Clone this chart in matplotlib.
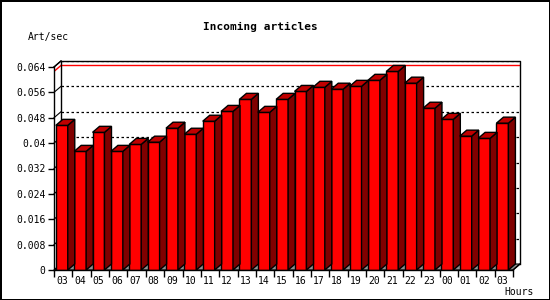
import numpy as np
import matplotlib
matplotlib.use("Agg")
import matplotlib.pyplot as plt
from matplotlib.patches import Polygon

# hourly article rate
hours = ["03", "04", "05", "06", "07", "08", "09", "10", "11", "12", "13", "14", "15",
         "16", "17", "18", "19", "20", "21", "22", "23", "00", "01", "02", "03"]
rates = [0.0456, 0.0374, 0.0434, 0.0374, 0.0396, 0.0403, 0.0447, 0.0428, 0.0469,
         0.0500, 0.0538, 0.0497, 0.0538, 0.0563, 0.0576, 0.0570, 0.0579, 0.0598,
         0.0626, 0.0589, 0.0510, 0.0475, 0.0422, 0.0415, 0.0463]
y_ticks = [0, 0.008, 0.016, 0.024, 0.032, 0.04, 0.048, 0.056, 0.064]
y_labels = ["0", "0.008", "0.016", "0.024", "0.032", "0.04", "0.048", "0.056", "0.064"]

plt.rcParams["font.family"] = "DejaVu Sans Mono"

TOP = 0.064
N = len(hours)
DX = 7 / 18.36          # depth of the 3d effect, in category units
DY = TOP * 6 / 203      # depth of the 3d effect, in value units
OFF = 0.1
W = 0.65

FRONT = "#ff0000"
SIDE = "#800000"
ROOF = "#c00000"

fig = plt.figure(figsize=(5.5, 3), dpi=100)
fig.patch.set_facecolor("white")
fig.patch.set_edgecolor("black")
fig.patch.set_linewidth(2)

ax = fig.add_axes([54 / 550, 30 / 300, 466 / 550, 209 / 300])
ax.set_xlim(0, N + DX)
ax.set_ylim(0, TOP + DY)
for s in ax.spines.values():
    s.set_visible(False)

# back wall: dotted grid, connectors and frame
for v in y_ticks[1:]:
    ax.plot([DX, N + DX], [v + DY, v + DY], color="black", lw=0.9,
            ls=(0, (2, 2)), zorder=1)
for v in y_ticks:
    ax.plot([0, DX], [v, v + DY], color="black", lw=0.8, zorder=1, clip_on=False)

mx = max(rates)
ax.plot([DX, N + DX], [mx + DY, mx + DY], color="red", lw=1, zorder=1.2)
ax.plot([0, DX], [mx, mx + DY], color="red", lw=1, zorder=1.2)

ax.plot([DX, DX, N + DX, N + DX], [DY, TOP + DY, TOP + DY, DY],
        color="black", lw=1, zorder=1.5, clip_on=False)

# floor
ax.add_patch(Polygon([(0, 0), (N, 0), (N + DX, DY), (DX, DY)], closed=True,
                     facecolor="#909090", edgecolor="black", lw=0.8, zorder=1.6))

# bars
x = np.arange(N)
ax.bar(x + OFF, rates, width=W, align="edge", color=FRONT, edgecolor="black",
       lw=1, zorder=3)
for xi, v in zip(x, rates):
    l = xi + OFF
    r = l + W
    ax.add_patch(Polygon([(r, 0), (r + DX, DY), (r + DX, v + DY), (r, v)], closed=True,
                         facecolor=SIDE, edgecolor="black", lw=1, zorder=3))
    ax.add_patch(Polygon([(l, v), (r, v), (r + DX, v + DY), (l + DX, v + DY)], closed=True,
                         facecolor=ROOF, edgecolor="black", lw=1, zorder=3))

# front axes
ax.plot([0, 0], [0, TOP], color="black", lw=1, zorder=5, clip_on=False)
ax.plot([0, DX], [TOP, TOP + DY], color="black", lw=1, zorder=5, clip_on=False)
ax.plot([0, N], [0, 0], color="black", lw=1, zorder=5, clip_on=False)
ax.plot([N, N + DX], [0, DY], color="black", lw=1, zorder=5, clip_on=False)

ax.set_yticks(y_ticks)
ax.set_yticklabels(y_labels)
ax.tick_params(axis="y", length=4, width=1, pad=2, labelsize=7, colors="black")

ax.set_xticks(x + OFF + W / 2)
ax.set_xticklabels(hours)
ax.set_xticks(np.arange(N + 1), minor=True)
ax.tick_params(axis="x", which="major", length=0, pad=4, labelsize=7)
ax.tick_params(axis="x", which="minor", length=5, width=1)

fig.text(260 / 550, 1 - 27 / 300, "Incoming articles", ha="center", va="center",
         fontsize=8, fontweight="bold")
fig.text(28 / 550, 1 - 37 / 300, "Art/sec", ha="left", va="center", fontsize=7)
fig.text(504 / 550, 1 - 292 / 300, "Hours", ha="left", va="center", fontsize=7)

fig.savefig("out.png", dpi=100, facecolor="white", edgecolor="black")
